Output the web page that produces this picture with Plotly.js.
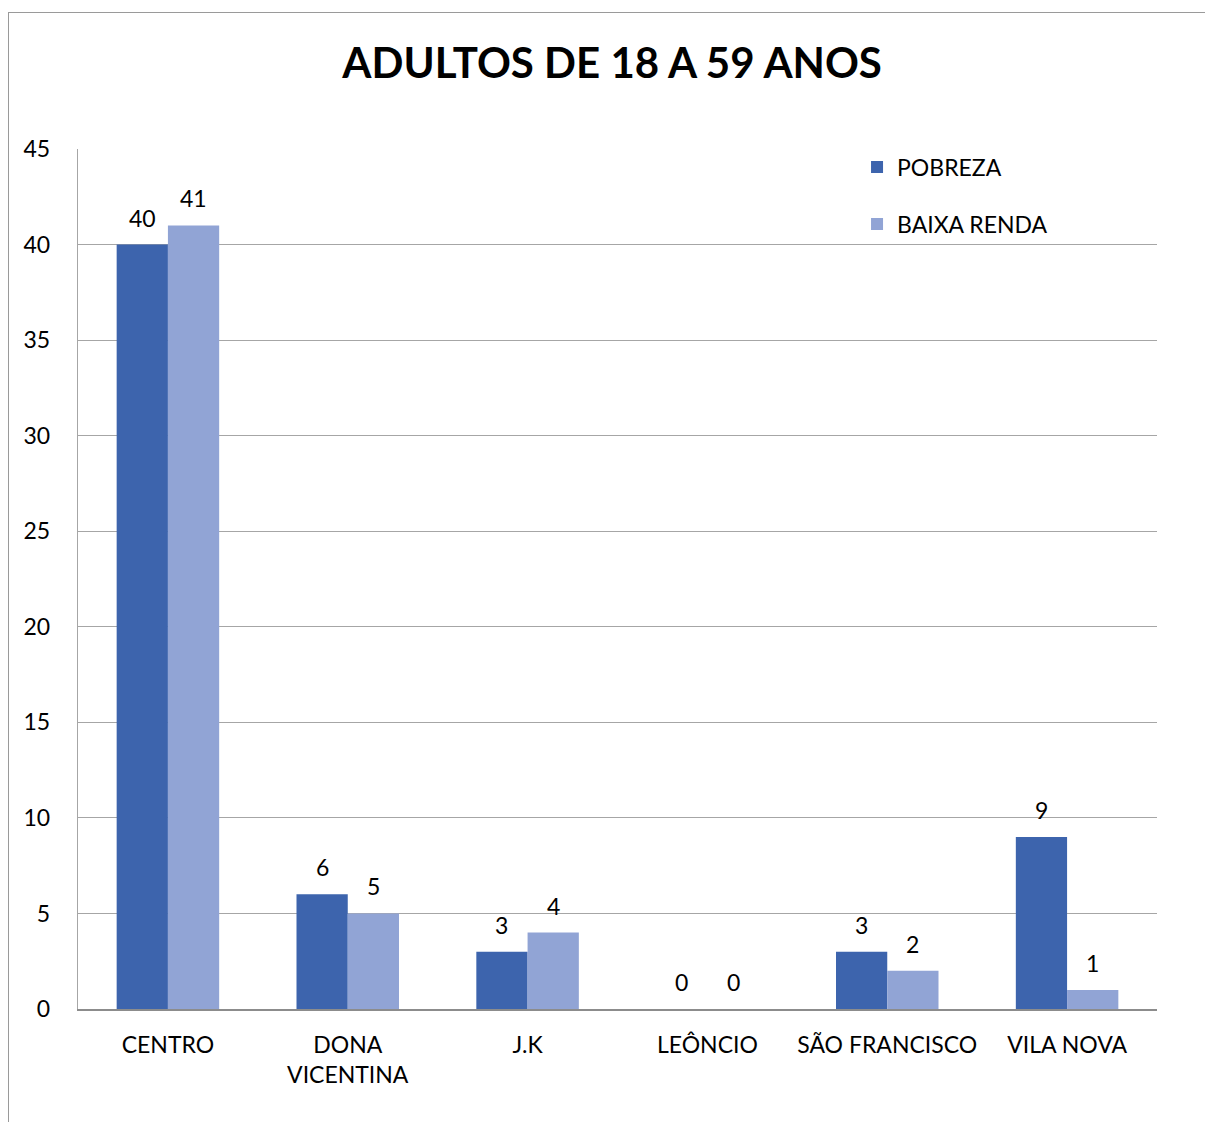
<!DOCTYPE html>
<html><head><meta charset="utf-8">
<script src="https://cdn.plot.ly/plotly-3.0.1.min.js"></script>
<style>
html,body{margin:0;padding:0;background:#fff;}
#wrap{position:relative;width:1205px;height:1122px;}
#frame{position:absolute;left:8px;top:12px;width:1300px;height:1200px;border-top:1.5px solid #9a9a9a;border-left:1.5px solid #9a9a9a;pointer-events:none;}
#chart{position:absolute;left:0;top:0;width:1205px;height:1122px;}
</style></head>
<body><div id="wrap"><div id="chart"></div><div id="frame"></div></div>
<script>
const categories = ["CENTRO", "DONA<br>VICENTINA", "J.K", "LEÔNCIO", "SÃO FRANCISCO", "VILA NOVA"];
const pobreza = [40, 6, 3, 0, 3, 9];
const baixaRenda = [41, 5, 4, 0, 2, 1];
const seriesNames = ["POBREZA", "BAIXA RENDA"];
const titleText = "ADULTOS DE 18 A 59 ANOS";

const font = "Lato, Open Sans, sans-serif";
const colors = ['#3D64AD', '#91A4D5'];
const traces = [
  {type:'bar', name:seriesNames[0], x:categories, y:pobreza, marker:{color:colors[0]}, legendgroup:'a'},
  {type:'bar', name:seriesNames[1], x:categories, y:baixaRenda, marker:{color:colors[1]}, legendgroup:'b'}
];
const annotations = [];
[pobreza, baixaRenda].forEach((vals, si) => {
  vals.forEach((v, i) => {
    annotations.push({x:categories[i], y:v, xref:'x', yref:'y', text:String(v), showarrow:false,
      xanchor:'center', yanchor:'bottom', xshift: si === 0 ? -25.6 : 25.6, yshift:11,
      font:{size:23, family:font, color:'#000'}});
  });
});
const layout = {
  width:1205, height:1122,
  margin:{l:78, r:48, t:149, b:113},
  paper_bgcolor:'#fff', plot_bgcolor:'#fff',
  font:{family:font, color:'#000', size:23},
  title:{text:'<b>'+titleText+'</b>', font:{size:42, family:font, color:'#000'}, x:0.508, xref:'container', y:0.944, yanchor:'middle'},
  barmode:'group', bargap:0.43, bargroupgap:0,
  showlegend:true,
  legend:{x:0.722, y:1.004, xanchor:'left', yanchor:'top', tracegroupgap:24, font:{size:23,family:font}, bgcolor:'rgba(0,0,0,0)', itemwidth:30},
  annotations: annotations,
  xaxis:{type:'category', showline:true, linecolor:'#8c8c8c', linewidth:1.5, ticks:'', tickfont:{size:23}, ticklabelstandoff:15, showgrid:false},
  yaxis:{range:[0,45], dtick:5, showgrid:true, gridcolor:'#a6a6a6', gridwidth:1.2, showline:true, linecolor:'#a6a6a6', linewidth:1.2, ticks:'', tickfont:{size:23}, ticklabelstandoff:22, zeroline:false}
};
Plotly.newPlot('chart', traces, layout, {displayModeBar:false, staticPlot:true});
</script></body></html>
